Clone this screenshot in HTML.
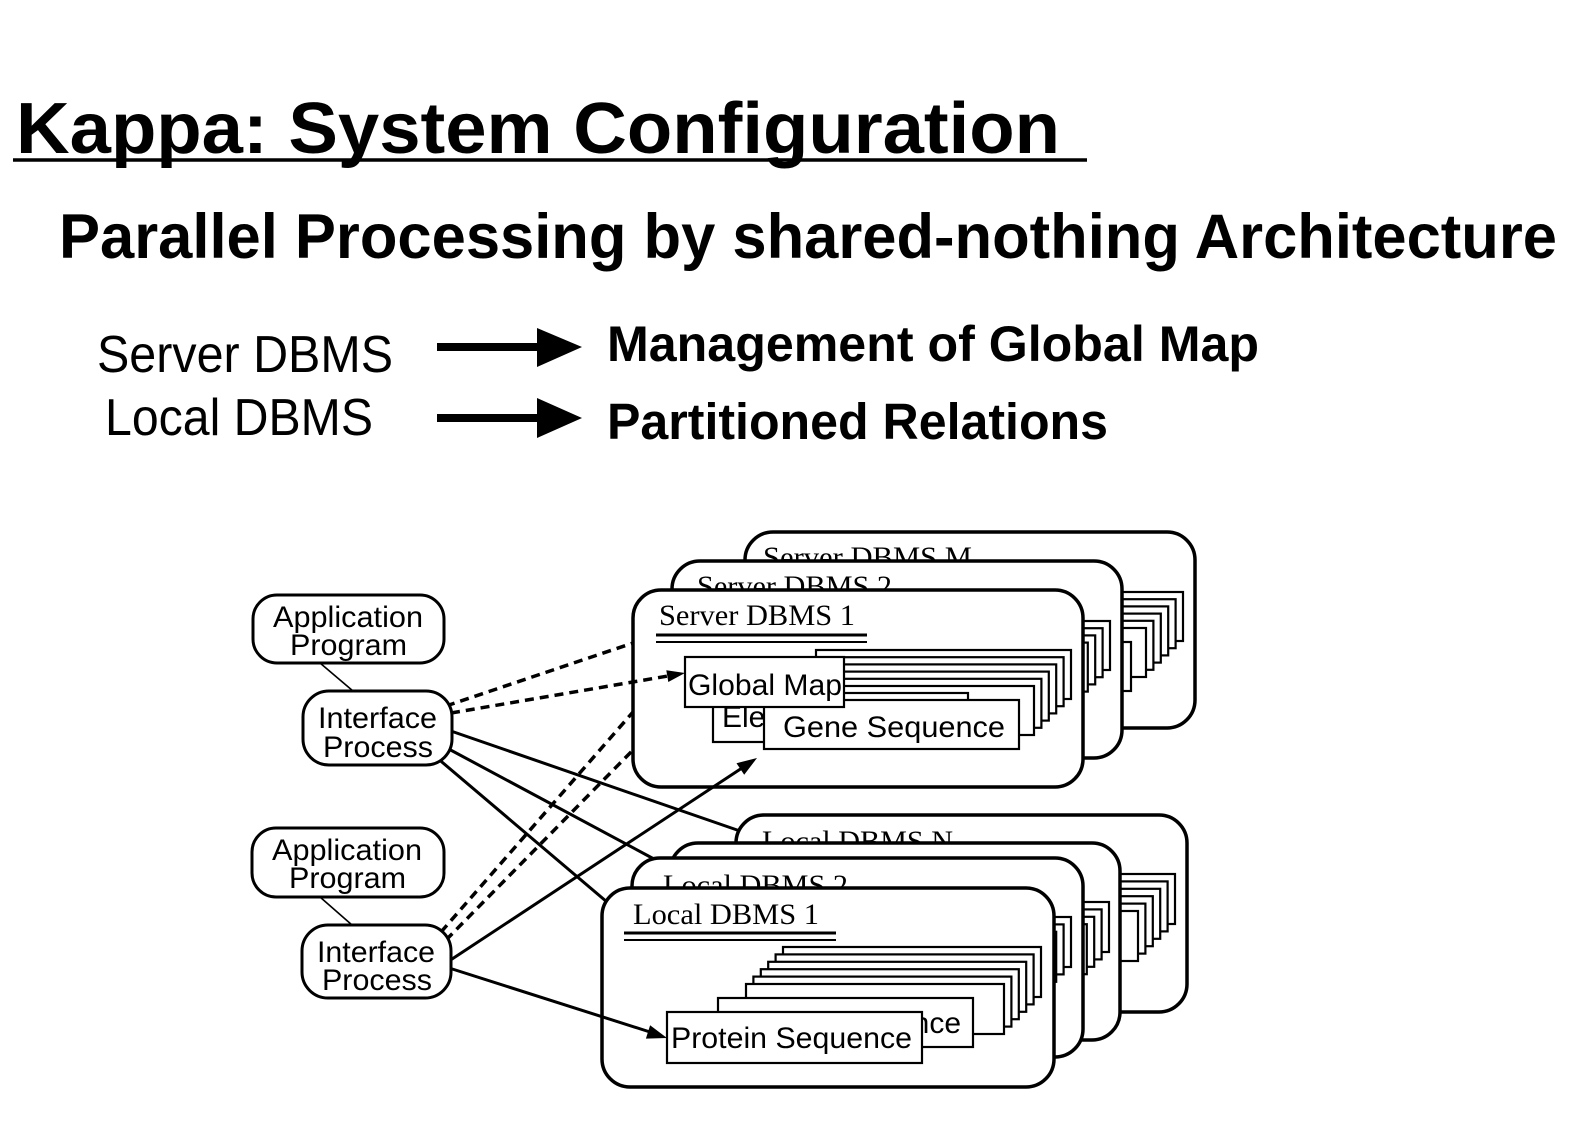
<!DOCTYPE html>
<html>
<head>
<meta charset="utf-8">
<style>
  html, body { margin: 0; padding: 0; background: #ffffff; }
  svg { display: block; }
  .sans { font-family: "Liberation Sans", Arial, sans-serif; }
  .serif { font-family: "Liberation Serif", "Times New Roman", serif; }
  .big { fill: #fff; stroke: #000; stroke-width: 3.5; }
  .card { fill: #fff; stroke: #000; stroke-width: 2.2; }
  .sm { fill: #fff; stroke: #000; stroke-width: 3; }
  .ln { stroke: #000; stroke-width: 3; fill: none; }
  .dl { stroke: #000; stroke-width: 3.5; fill: none; stroke-dasharray: 9 6; }
</style>
</head>
<body>
<svg width="1583" height="1122" viewBox="0 0 1583 1122" xmlns="http://www.w3.org/2000/svg">
  <rect x="0" y="0" width="1583" height="1122" fill="#fff"/>

  <!-- Header -->
  <text class="sans" x="16" y="153" font-size="72" font-weight="bold" textLength="1044" lengthAdjust="spacingAndGlyphs">Kappa: System Configuration</text>
  <line x1="13" y1="160" x2="1087" y2="160" stroke="#000" stroke-width="3.5"/>
  <text class="sans" x="59" y="258" font-size="63" font-weight="bold" textLength="1498" lengthAdjust="spacingAndGlyphs">Parallel Processing by shared-nothing Architecture</text>

  <text class="sans" x="97" y="372" font-size="52" textLength="296" lengthAdjust="spacingAndGlyphs">Server DBMS</text>
  <text class="sans" x="105" y="435" font-size="52" textLength="268" lengthAdjust="spacingAndGlyphs">Local DBMS</text>

  <line x1="437" y1="347" x2="541" y2="347" stroke="#000" stroke-width="8"/>
  <polygon points="537,328 582,347 537,367" fill="#000"/>
  <line x1="437" y1="418" x2="541" y2="418" stroke="#000" stroke-width="8"/>
  <polygon points="537,398 582,418 537,438" fill="#000"/>

  <text class="sans" x="607" y="361" font-size="50" font-weight="bold" textLength="652" lengthAdjust="spacingAndGlyphs">Management of Global Map</text>
  <text class="sans" x="607" y="439" font-size="51" font-weight="bold" textLength="501" lengthAdjust="spacingAndGlyphs">Partitioned Relations</text>

  <!-- ============ SERVER STACK ============ -->
  <!-- Server M -->
  <rect class="big" x="745" y="532" width="450" height="196" rx="28"/>
  <text class="serif" x="763" y="567" font-size="30" textLength="209" lengthAdjust="spacingAndGlyphs">Server DBMS M</text>
  <g transform="translate(112,-58)">
    <rect class="card" x="816" y="650" width="255" height="49"/>
    <rect class="card" x="808.6" y="657.2" width="255" height="49"/>
    <rect class="card" x="801.2" y="664.4" width="255" height="49"/>
    <rect class="card" x="793.8" y="671.6" width="255" height="49"/>
    <rect class="card" x="786.4" y="678.8" width="255" height="49"/>
    <rect class="card" x="779" y="686" width="255" height="49"/>
    <rect class="card" x="713" y="693" width="255" height="49"/>
    <rect class="card" x="764" y="700" width="255" height="49"/>
    <rect class="card" x="685" y="657" width="159" height="50"/>
  </g>

  <!-- Server 2 -->
  <rect class="big" x="672" y="561" width="450" height="197" rx="28"/>
  <text class="serif" x="697" y="596" font-size="30" textLength="195" lengthAdjust="spacingAndGlyphs">Server DBMS 2</text>
  <g transform="translate(39,-29)">
    <rect class="card" x="816" y="650" width="255" height="49"/>
    <rect class="card" x="808.6" y="657.2" width="255" height="49"/>
    <rect class="card" x="801.2" y="664.4" width="255" height="49"/>
    <rect class="card" x="793.8" y="671.6" width="255" height="49"/>
    <rect class="card" x="786.4" y="678.8" width="255" height="49"/>
    <rect class="card" x="779" y="686" width="255" height="49"/>
    <rect class="card" x="713" y="693" width="255" height="49"/>
    <rect class="card" x="764" y="700" width="255" height="49"/>
    <rect class="card" x="685" y="657" width="159" height="50"/>
  </g>

  <!-- Server 1 -->
  <rect class="big" x="633" y="590" width="450" height="197" rx="28"/>
  <text class="serif" x="659" y="625" font-size="30" textLength="196" lengthAdjust="spacingAndGlyphs">Server DBMS 1</text>
  <line x1="656" y1="635" x2="867" y2="635" stroke="#000" stroke-width="3"/>
  <line x1="656" y1="642" x2="867" y2="642" stroke="#000" stroke-width="2"/>
  <rect class="card" x="816" y="650" width="255" height="49"/>
  <rect class="card" x="808.6" y="657.2" width="255" height="49"/>
  <rect class="card" x="801.2" y="664.4" width="255" height="49"/>
  <rect class="card" x="793.8" y="671.6" width="255" height="49"/>
  <rect class="card" x="786.4" y="678.8" width="255" height="49"/>
  <rect class="card" x="779" y="686" width="255" height="49"/>
  <rect class="card" x="713" y="693" width="255" height="49"/>
  <text class="sans" x="722" y="727" font-size="30">Element</text>
  <rect class="card" x="764" y="700" width="255" height="49"/>
  <text class="sans" x="783" y="737" font-size="30" textLength="222" lengthAdjust="spacingAndGlyphs">Gene Sequence</text>
  <rect class="card" x="685" y="657" width="159" height="50"/>
  <text class="sans" x="688" y="695" font-size="30" textLength="154" lengthAdjust="spacingAndGlyphs">Global Map</text>

  <!-- ============ LOCAL STACK ============ -->
  <!-- Local N -->
  <rect class="big" x="736" y="815" width="451" height="197" rx="28"/>
  <text class="serif" x="762" y="851" font-size="30" textLength="191" lengthAdjust="spacingAndGlyphs">Local DBMS N</text>
  <g transform="translate(134,-73)">
    <rect class="card" x="783" y="947" width="258" height="50"/>
    <rect class="card" x="775.6" y="954.4" width="258" height="50"/>
    <rect class="card" x="768.2" y="961.8" width="258" height="50"/>
    <rect class="card" x="760.8" y="969.2" width="258" height="50"/>
    <rect class="card" x="753.4" y="976.6" width="258" height="50"/>
    <rect class="card" x="746" y="984" width="258" height="50"/>
    <rect class="card" x="718" y="998" width="255" height="49"/>
    <rect class="card" x="667" y="1012" width="255" height="51"/>
  </g>

  <!-- Local (unlabeled) -->
  <rect class="big" x="670" y="843" width="450" height="197" rx="28"/>
  <g transform="translate(68,-45)">
    <rect class="card" x="783" y="947" width="258" height="50"/>
    <rect class="card" x="775.6" y="954.4" width="258" height="50"/>
    <rect class="card" x="768.2" y="961.8" width="258" height="50"/>
    <rect class="card" x="760.8" y="969.2" width="258" height="50"/>
    <rect class="card" x="753.4" y="976.6" width="258" height="50"/>
    <rect class="card" x="746" y="984" width="258" height="50"/>
    <rect class="card" x="718" y="998" width="255" height="49"/>
    <rect class="card" x="667" y="1012" width="255" height="51"/>
  </g>

  <!-- Local 2 -->
  <rect class="big" x="632" y="858" width="451" height="199" rx="28"/>
  <text class="serif" x="663" y="895" font-size="30" textLength="185" lengthAdjust="spacingAndGlyphs">Local DBMS 2</text>
  <g transform="translate(30,-30)">
    <rect class="card" x="783" y="947" width="258" height="50"/>
    <rect class="card" x="775.6" y="954.4" width="258" height="50"/>
    <rect class="card" x="768.2" y="961.8" width="258" height="50"/>
    <rect class="card" x="760.8" y="969.2" width="258" height="50"/>
    <rect class="card" x="753.4" y="976.6" width="258" height="50"/>
    <rect class="card" x="746" y="984" width="258" height="50"/>
    <rect class="card" x="718" y="998" width="255" height="49"/>
    <rect class="card" x="667" y="1012" width="255" height="51"/>
  </g>

  <!-- Local 1 -->
  <rect class="big" x="602" y="888" width="452" height="199" rx="28"/>
  <text class="serif" x="633" y="924" font-size="30" textLength="186" lengthAdjust="spacingAndGlyphs">Local DBMS 1</text>
  <line x1="624" y1="933" x2="836" y2="933" stroke="#000" stroke-width="3"/>
  <line x1="624" y1="940" x2="836" y2="940" stroke="#000" stroke-width="2"/>
  <rect class="card" x="783" y="947" width="258" height="50"/>
  <rect class="card" x="775.6" y="954.4" width="258" height="50"/>
  <rect class="card" x="768.2" y="961.8" width="258" height="50"/>
  <rect class="card" x="760.8" y="969.2" width="258" height="50"/>
  <rect class="card" x="753.4" y="976.6" width="258" height="50"/>
  <rect class="card" x="746" y="984" width="258" height="50"/>
  <rect class="card" x="718" y="998" width="255" height="49"/>
  <text class="sans" x="961" y="1033" font-size="30" text-anchor="end">Gene Sequence</text>
  <rect class="card" x="667" y="1012" width="255" height="51"/>
  <text class="sans" x="671" y="1048" font-size="30" textLength="241" lengthAdjust="spacingAndGlyphs">Protein Sequence</text>

  <!-- ============ CONNECTORS ============ -->
  <line x1="320" y1="663" x2="353" y2="691" stroke="#000" stroke-width="1.6"/>
  <line x1="320" y1="897" x2="352" y2="925" stroke="#000" stroke-width="1.6"/>

  <!-- dashed -->
  <line class="dl" x1="446" y1="706" x2="633" y2="643"/>
  <line class="dl" x1="451" y1="713" x2="668" y2="676"/>
  <polygon points="685,673 668.3,682 666.3,670.2" fill="#000"/>
  <line class="dl" x1="441" y1="932" x2="633" y2="712"/>
  <line class="dl" x1="446" y1="940" x2="633" y2="750"/>

  <!-- solid -->
  <line class="ln" x1="448" y1="730" x2="740" y2="831"/>
  <line class="ln" x1="445" y1="747" x2="654" y2="859"/>
  <line class="ln" x1="436" y1="757" x2="607" y2="902"/>
  <line class="ln" x1="446" y1="963" x2="742" y2="768"/>
  <polygon points="757,758 744.2,774.8 736.5,763.2" fill="#000"/>
  <line class="ln" x1="446" y1="967" x2="650" y2="1032"/>
  <polygon points="667,1038 645.9,1038.6 650.1,1025.2" fill="#000"/>

  <!-- ============ SMALL BOXES ============ -->
  <rect class="sm" x="253" y="595" width="191" height="68" rx="24"/>
  <text class="sans" x="273" y="627" font-size="30" textLength="150" lengthAdjust="spacingAndGlyphs">Application</text>
  <text class="sans" x="290" y="655" font-size="30" textLength="117" lengthAdjust="spacingAndGlyphs">Program</text>

  <rect class="sm" x="303" y="691" width="149" height="74" rx="26"/>
  <text class="sans" x="318" y="728" font-size="30" textLength="119" lengthAdjust="spacingAndGlyphs">Interface</text>
  <text class="sans" x="323" y="757" font-size="30" textLength="110" lengthAdjust="spacingAndGlyphs">Process</text>

  <rect class="sm" x="252" y="828" width="192" height="69" rx="24"/>
  <text class="sans" x="272" y="860" font-size="30" textLength="150" lengthAdjust="spacingAndGlyphs">Application</text>
  <text class="sans" x="289" y="888" font-size="30" textLength="117" lengthAdjust="spacingAndGlyphs">Program</text>

  <rect class="sm" x="302" y="925" width="149" height="73" rx="26"/>
  <text class="sans" x="317" y="962" font-size="30" textLength="118" lengthAdjust="spacingAndGlyphs">Interface</text>
  <text class="sans" x="322" y="990" font-size="30" textLength="110" lengthAdjust="spacingAndGlyphs">Process</text>
</svg>
</body>
</html>
